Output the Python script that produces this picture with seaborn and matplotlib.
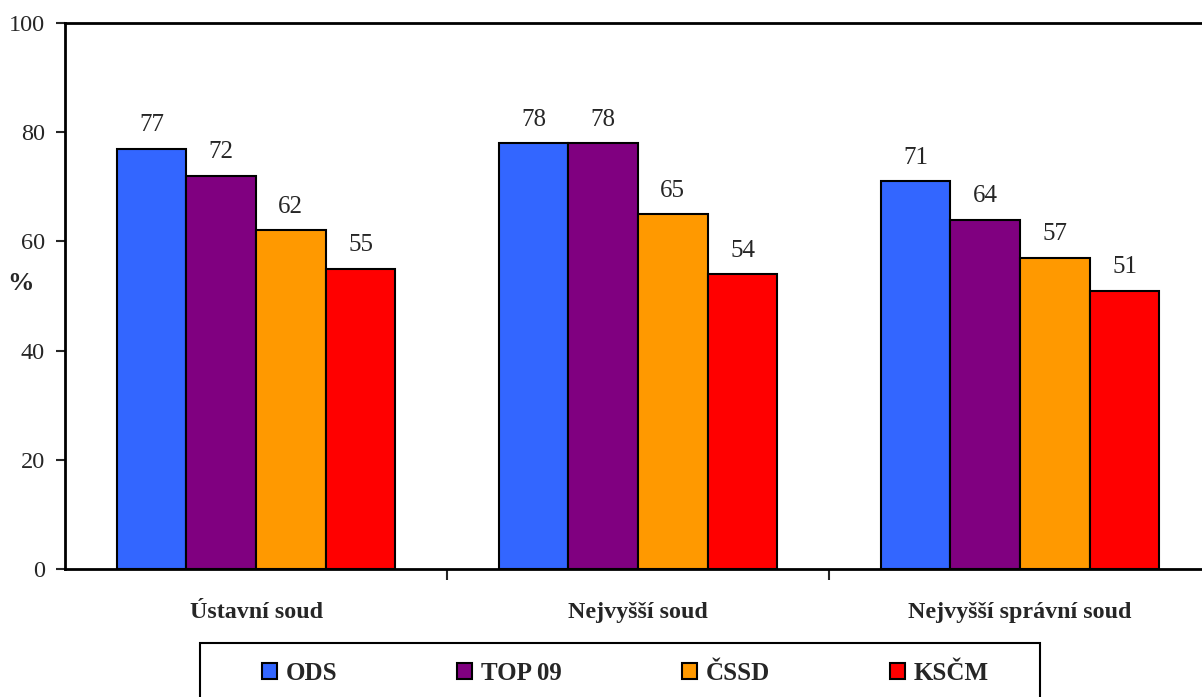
import matplotlib.pyplot as plt
from matplotlib.patches import Rectangle
import seaborn as sns
import pandas as pd

# data
courts = ["Ústavní soud", "Nejvyšší soud", "Nejvyšší správní soud"]
parties = ["ODS", "TOP 09", "ČSSD", "KSČM"]
ods = [77, 78, 71]
top09 = [72, 78, 64]
cssd = [62, 65, 57]
kscm = [55, 54, 51]
colors = ["#3366FF", "#800080", "#FF9900", "#FF0000"]

rows = []
for party, vals in zip(parties, [ods, top09, cssd, kscm]):
    for court, v in zip(courts, vals):
        rows.append({"soud": court, "strana": party, "procento": v})
df = pd.DataFrame(rows)

sns.set_style("white")
plt.rcParams["font.family"] = ["Liberation Serif", "DejaVu Serif"]

W, H = 1202, 697
fig = plt.figure(figsize=(W / 100, H / 100), dpi=100)
ax = fig.add_axes([65 / W, 1 - 569 / H, 1146 / W, 546 / H])

sns.barplot(data=df, x="soud", y="procento", hue="strana", palette=colors,
            width=0.73, edgecolor="black", linewidth=1.5, saturation=1,
            ax=ax)

for cont in ax.containers:
    ax.bar_label(cont, fontsize=18, padding=9)

handles, labels = ax.get_legend_handles_labels()
ax.get_legend().remove()

ax.set_xlim(-0.5, 2.5)
ax.set_ylim(0, 100)
ax.set_yticks(range(0, 101, 20))
ax.tick_params(axis="y", labelsize=17.5, length=6.5, width=1.5,
               direction="out", left=True, pad=8)
ax.set_xticks([0, 1, 2])
ax.set_xticklabels(courts, fontsize=17.3, fontweight="bold")
ax.tick_params(axis="x", length=0, pad=24)
ax.set_xticks([0.5, 1.5], minor=True)
ax.tick_params(axis="x", which="minor", length=8, width=1.5, direction="out",
               bottom=True)
ax.set_xlabel("")
ax.set_ylabel("%", fontsize=19, fontweight="bold", rotation=0, va="center",
              ha="center")
ax.yaxis.set_label_coords(-0.039, 0.523)

for side in ["left", "bottom", "top"]:
    ax.spines[side].set_linewidth(2)
    ax.spines[side].set_color("black")
ax.spines["right"].set_visible(False)

# legend box (runs off the bottom edge like in the original)
fig.patches.append(Rectangle((200 / W, -0.05), 840 / W, 0.05 + 1 - 643 / H,
                             transform=fig.transFigure, fill=False,
                             edgecolor="black", linewidth=1.5))
leg = fig.legend(handles, labels, loc="center left", ncol=4,
                 bbox_to_anchor=(262 / W, 1 - 673 / H),
                 prop={"size": 18, "weight": "bold"}, frameon=False,
                 borderpad=0, borderaxespad=0,
                 handlelength=0.6, handleheight=0.6, handletextpad=0.35,
                 columnspacing=4.8)

fig.savefig("out.png", dpi=100)
